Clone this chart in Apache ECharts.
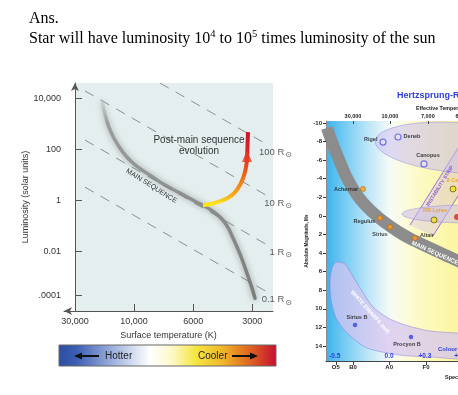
<!DOCTYPE html>
<html><head><meta charset="utf-8">
<script src="https://cdn.jsdelivr.net/npm/echarts@6/dist/echarts.min.js"></script>
<style>html,body{margin:0;padding:0;background:#fff}#c{width:458px;height:395px}</style>
</head><body><div id="c"></div>
<script>
// ---------------- Left panel (schematic HR diagram) ----------------
// x: position along schematic temperature axis (tick index), y: log10(L / Lsun)
const tempTickPos = [0, 1, 2, 3];
const tempTickLabels = ['30,000', '10,000', '6000', '3000'];
const lumTickPos = [4, 2, 0, -2, -3.72];
const lumTickLabels = ['10,000', '100', '1', '0.01', '.0001'];
const mainSequence = [[0.457,3.89],[0.525,3.22],[0.609,2.67],[0.728,2.16],[0.880,1.69],[1.066,1.30],[1.269,0.99],[1.523,0.60],[1.777,0.29],[2.030,-0.03],[2.250,-0.30],[2.420,-0.58],[2.555,-0.93],[2.673,-1.47],[2.792,-2.10],[2.893,-2.73],[2.978,-3.31],[3.046,-3.82]];
const evolutionTrack = [[2.166,-0.18],[2.335,-0.12],[2.504,0.01],[2.656,0.21],[2.758,0.48],[2.843,0.87],[2.893,1.30],[2.910,1.66],[2.919,2.16],[2.927,2.67]];
const arrowHead = [[2.910,1.74]];
const radius100 = [[1.438,4.59],[3.266,2.164]];
const radius10 = [[0.169,4.28],[3.266,0.163]];
const radius1 = [[0.169,2.36],[3.266,-1.757]];
const radius01 = [[0.169,0.52],[3.266,-3.597]];
const radiusLabels = ['100 R', '10 R', '1 R', '0.1 R'];

// ---------------- Right panel (partial H-R diagram) ----------------
// x: spectral index (O0=0, B0=1, A0=2, F0=3, G0=4), y: absolute magnitude
const specPos = [0.53, 1, 1.99, 3.0];
const specLabels = ['O5', 'B0', 'A0', 'F0'];
const topTempPos = [1.0, 2.01, 3.05, 4.0];
const topTempLabels = ['30,000', '10,000', '7,000', '6,000'];
const colourIdxPos = [0.5, 1.99, 2.97, 3.95];
const colourIdxLabels = ['-0.5', '0.0', '+0.3', '+0.6'];
const magTicks = [-10,-8,-6,-4,-2,0,2,4,6,8,10,12,14];
const msRight = [[0.288,-9.46],[0.452,-7.63],[0.644,-5.80],[0.863,-3.86],[1.110,-2.25],[1.384,-0.96],[1.685,0.12],[2.014,1.09],[2.342,1.95],[2.699,2.70],[3.110,3.46],[3.521,4.21],[3.932,4.96],[4.479,6.04]];
const giantNames = ['Rigel', 'Deneb', 'Canopus'];
const giantPos = [[1.822,-7.95],[2.233,-8.49],[2.945,-5.59]];
const msStarNames = ['Achernar', 'Regulus', 'Sirius', 'Altair'];
const msStarPos = [[1.274,-2.90],[1.740,0.23],[2.014,1.19],[2.699,2.38]];
const variableNames = ['δ Cep', 'RR Lyrae'];
const variablePos = [[3.74,-2.90],[3.219,0.44]];
const redStarPos = [[3.849,0.12]];
const wdNames = ['Sirius B', 'Procyon B'];
const wdPos = [[1.055,11.74],[2.589,13.04]];
// regions: [centre x, centre y, half-width, half-height, rotation]
const giantsRegion = [[3.986,-7.31,2.384,2.70,-0.08]];
const rrLyraeRegion = [[4.205,-0.205,1.863,0.969,0]];
const stripLeft = [[2.562,0.98],[4.342,-10.215]];
const stripRight = [[3.192,2.16],[5.16,-10.215]];
const whiteDwarfRegion = [[0.534,4.96],[0.781,5.18],[0.973,6.36],[1.192,7.76],[1.548,9.81],[1.959,10.99],[2.425,11.74],[3.110,12.39],[4.479,13.04],[4.479,15.30],[3.110,15.19],[2.288,14.98],[1.384,14.22],[0.836,12.61],[0.534,10.99],[0.397,9.05],[0.370,6.90],[0.425,5.61]];

const SANS = '"Liberation Sans", Arial, Helvetica, sans-serif';
const SERIF = '"Liberation Serif", "Times New Roman", serif';
const pick = (pos, labels) => v => { const i = pos.findIndex(p => Math.abs(p - v) < 1e-6); return i < 0 ? '' : labels[i]; };

const chart = echarts.init(document.getElementById('c'), null, {renderer: 'canvas', width: 458, height: 395});

const starLabelPos = {
  'Rigel': ['left', [0, -3]], 'Deneb': ['right', [0, -1]], 'Canopus': ['top', [4, 0]],
  'Achernar': ['left', [0, 1]], 'Regulus': ['left', [0, 3]], 'Sirius': ['bottom', [-10, 0]], 'Altair': ['right', [0, -3]],
  'δ Cep': ['top', [1, 0]], 'RR Lyrae': ['top', [1, -1]], 'Sirius B': ['top', [2, 0]], 'Procyon B': ['bottom', [-4, 0]]
};
const starItems = (names, pos) => names.map((n, i) => ({name: n, value: pos[i], label: {position: starLabelPos[n][0], offset: starLabelPos[n][1]}}));
const starLabel = color => ({show: true, formatter: '{b}', fontFamily: SANS, fontSize: 5.5, fontWeight: 'bold', color: color, distance: 2});

function ellipseItem(fill, stroke) {
  return function (params, api) {
    const c = api.coord([api.value(0), api.value(1)]);
    const s = api.size([api.value(2), api.value(3)]);
    return {type: 'ellipse', x: c[0], y: c[1], rotation: api.value(4),
      shape: {cx: 0, cy: 0, rx: s[0], ry: s[1]}, style: {fill: fill, stroke: stroke, lineWidth: 0.8}};
  };
}

const option = {
  animation: false,
  backgroundColor: '#ffffff',
  grid: [
    {left: 64, top: 83, width: 209, height: 228, outerBoundsMode: 'none', containLabel: false},
    {left: 326, top: 121, width: 160, height: 240, outerBoundsMode: 'none', containLabel: false, show: true, borderWidth: 0,
      backgroundColor: new echarts.graphic.LinearGradient(0, 0, 1, 0, [
        {offset: 0, color: '#3cb2ec'}, {offset: 0.12, color: '#78ccf3'}, {offset: 0.28, color: '#c4e8f8'},
        {offset: 0.4, color: '#f6fbf6'}, {offset: 0.55, color: '#fdfbcc'}, {offset: 0.8, color: '#fbf6a2'}, {offset: 1, color: '#faf290'}])}
  ],
  xAxis: [
    {gridIndex: 0, type: 'value', min: -0.186, max: 3.35, z: 5,
      axisLine: {show: true, onZero: false, symbol: ['arrow', 'none'], symbolSize: [6, 8], lineStyle: {color: '#555', width: 1}},
      axisTick: {show: true, inside: true, length: 7, customValues: tempTickPos, lineStyle: {color: '#555'}},
      axisLabel: {show: true, customValues: tempTickPos, formatter: pick(tempTickPos, tempTickLabels), margin: 6, fontFamily: SANS, fontSize: 9, color: '#333'},
      splitLine: {show: false},
      name: 'Surface temperature (K)', nameLocation: 'middle', nameGap: 16, nameTextStyle: {fontFamily: SANS, fontSize: 9, color: '#333'}},
    {gridIndex: 1, type: 'value', min: 0.26, max: 4.644, position: 'bottom', z: 5,
      axisLine: {show: true, onZero: false, lineStyle: {color: '#444', width: 1}},
      axisTick: {show: true, length: 4, customValues: specPos, lineStyle: {color: '#444'}},
      axisLabel: {show: true, customValues: specPos, formatter: pick(specPos, specLabels), margin: 3, fontFamily: SANS, fontSize: 6, fontWeight: 'bold', color: '#222'},
      splitLine: {show: false}},
    {gridIndex: 1, type: 'value', min: 0.26, max: 4.644, position: 'top', z: 5,
      axisLine: {show: false, onZero: false},
      axisTick: {show: true, inside: true, length: 3, customValues: topTempPos, lineStyle: {color: '#444'}},
      axisLabel: {show: true, customValues: topTempPos, formatter: pick(topTempPos, topTempLabels), margin: 2, fontFamily: SANS, fontSize: 5.5, fontWeight: 'bold', color: '#222'},
      splitLine: {show: false}},
    {gridIndex: 1, type: 'value', min: 0.26, max: 4.644, position: 'bottom', z: 5,
      axisLine: {show: false, onZero: false}, axisTick: {show: false},
      axisLabel: {show: true, inside: true, customValues: colourIdxPos, formatter: pick(colourIdxPos, colourIdxLabels), margin: 1, fontFamily: SANS, fontSize: 6.5, fontWeight: 'bold', color: '#2b3fe0'},
      splitLine: {show: false}}
  ],
  yAxis: [
    {gridIndex: 0, type: 'value', min: -4.32, max: 4.59, z: 5,
      axisLine: {show: true, onZero: true, symbol: ['none', 'arrow'], symbolSize: [6, 8], lineStyle: {color: '#555', width: 1}},
      axisTick: {show: true, inside: true, length: 7, customValues: lumTickPos, lineStyle: {color: '#555'}},
      axisLabel: {show: true, customValues: lumTickPos, formatter: pick(lumTickPos, lumTickLabels), margin: 3, fontFamily: SANS, fontSize: 9, color: '#333'},
      splitLine: {show: false},
      name: 'Luminosity (solar units)', nameLocation: 'middle', nameGap: 26, nameTextStyle: {fontFamily: SANS, fontSize: 9, color: '#333'}},
    {gridIndex: 1, type: 'value', min: -10.215, max: 15.62, inverse: true, z: 5,
      axisLine: {show: true, onZero: false, lineStyle: {color: '#8a8a8a', width: 1}},
      axisTick: {show: true, length: 3, customValues: magTicks, lineStyle: {color: '#333'}},
      axisLabel: {show: true, customValues: magTicks, margin: 4, fontFamily: SANS, fontSize: 6, fontWeight: 'bold', color: '#222'},
      splitLine: {show: false},
      name: 'Absolute Magnitude, Mv', nameLocation: 'middle', nameGap: 12, nameTextStyle: {fontFamily: SANS, fontSize: 4.6, fontWeight: 'bold', color: '#222'}}
  ],
  series: [
    // left panel background
    {type: 'line', xAxisIndex: 0, yAxisIndex: 0, data: [], z: 1, silent: true,
      markArea: {silent: true, itemStyle: {color: '#e4eeee'}, data: [[{xAxis: 0, yAxis: 4.59}, {xAxis: 3.35, yAxis: -4.32}]]}},
    ...[radius100, radius10, radius1, radius01].map(d => ({
      type: 'line', xAxisIndex: 0, yAxisIndex: 0, data: d, showSymbol: false, silent: true, z: 2,
      lineStyle: {color: '#8a9090', width: 1, type: [10, 8]}})),
    {type: 'scatter', xAxisIndex: 0, yAxisIndex: 0, z: 6, silent: true, symbolSize: 1, itemStyle: {color: 'rgba(0,0,0,0)'},
      data: [radius100[1], radius10[1], radius1[1], radius01[1]],
      label: {show: true, position: 'inside', align: 'right', offset: [24, 7],
        formatter: p => '{r|' + radiusLabels[p.dataIndex] + '}{s|⊙}',
        rich: {r: {fontFamily: SANS, fontSize: 9.5, color: '#333', lineHeight: 14},
               s: {fontFamily: '"DejaVu Sans", sans-serif', fontSize: 8, color: '#333', verticalAlign: 'bottom', lineHeight: 9, padding: [0, 0, 0, 1]}}}},
    {type: 'line', xAxisIndex: 0, yAxisIndex: 0, data: mainSequence, smooth: true, showSymbol: false, silent: true, z: 3,
      lineStyle: {width: 3.5, cap: 'round',
        color: new echarts.graphic.LinearGradient(0, 0, 0, 1, [{offset: 0, color: 'rgba(170,170,170,0.2)'}, {offset: 0.12, color: 'rgba(140,140,140,0.75)'}, {offset: 1, color: 'rgba(110,110,110,0.85)'}]),
        shadowBlur: 6, shadowColor: 'rgba(110,110,110,0.8)'}},
    {type: 'line', xAxisIndex: 0, yAxisIndex: 0, data: evolutionTrack, smooth: true, showSymbol: false, silent: true, z: 4,
      lineStyle: {width: 4, cap: 'butt',
        color: new echarts.graphic.LinearGradient(0, 0, 0, 1, [
          {offset: 0, color: '#d0102e'}, {offset: 0.3, color: '#dc2222'}, {offset: 0.45, color: '#e8461a'},
          {offset: 0.66, color: '#f07a16'}, {offset: 0.85, color: '#f6ae1c'}, {offset: 0.94, color: '#fbe020'}, {offset: 1, color: '#fff200'}])}},
    {type: 'scatter', xAxisIndex: 0, yAxisIndex: 0, data: arrowHead, symbol: 'triangle', symbolSize: [10, 12], silent: true, z: 5,
      itemStyle: {color: '#e63a1c'}},

    // right panel
    {type: 'custom', xAxisIndex: 1, yAxisIndex: 1, data: whiteDwarfRegion, clip: true, silent: true, z: 2,
      renderItem: (params, api) => {
        if (params.dataIndex !== 0) return null;
        return {type: 'polygon', shape: {points: whiteDwarfRegion.map(p => api.coord(p)), smooth: 0.25},
          style: {fill: 'rgba(214,196,240,0.72)', stroke: 'rgba(120,110,220,0.55)', lineWidth: 0.8}};
      }},
    {type: 'custom', xAxisIndex: 1, yAxisIndex: 1, data: stripLeft, clip: true, silent: true, z: 2,
      renderItem: (params, api) => {
        if (params.dataIndex !== 0) return null;
        const a0 = api.coord(stripLeft[0]), a1 = api.coord(stripLeft[1]);
        const b0 = api.coord(stripRight[0]), b1 = api.coord(stripRight[1]);
        return {type: 'group', children: [
          {type: 'polygon', shape: {points: [a0, a1, b1, b0]}, style: {fill: 'rgba(200,170,240,0.3)', stroke: null}},
          {type: 'line', shape: {x1: a0[0], y1: a0[1], x2: a1[0], y2: a1[1]}, style: {stroke: '#9a6ee0', lineWidth: 1}},
          {type: 'line', shape: {x1: b0[0], y1: b0[1], x2: b1[0], y2: b1[1]}, style: {stroke: '#9a6ee0', lineWidth: 1}}]};
      }},
    {type: 'custom', xAxisIndex: 1, yAxisIndex: 1, data: giantsRegion, clip: true, silent: true, z: 3,
      renderItem: ellipseItem('rgba(200,190,238,0.55)', 'rgba(140,125,225,0.55)')},
    {type: 'custom', xAxisIndex: 1, yAxisIndex: 1, data: rrLyraeRegion, clip: true, silent: true, z: 3,
      renderItem: ellipseItem('rgba(200,190,238,0.55)', 'rgba(140,125,225,0.55)')},
    {type: 'line', xAxisIndex: 1, yAxisIndex: 1, data: msRight, smooth: true, showSymbol: false, silent: true, z: 3,
      lineStyle: {width: 12, color: '#8c8c8c', cap: 'butt'}},
    {type: 'scatter', xAxisIndex: 1, yAxisIndex: 1, data: starItems(giantNames, giantPos), symbolSize: 6, z: 6,
      itemStyle: {color: 'rgba(255,255,255,0.35)', borderColor: '#5a58e6', borderWidth: 1.2}, label: starLabel('#111')},
    {type: 'scatter', xAxisIndex: 1, yAxisIndex: 1, data: starItems(msStarNames, msStarPos), symbolSize: 5, z: 6,
      itemStyle: {color: '#f7a21b', borderColor: '#c8620e', borderWidth: 0.8}, label: starLabel('#111')},
    {type: 'scatter', xAxisIndex: 1, yAxisIndex: 1, data: starItems(variableNames, variablePos), symbolSize: 6, z: 6,
      itemStyle: {color: '#f2e21a', borderColor: '#6a6010', borderWidth: 1}, label: starLabel('#ef9800')},
    {type: 'scatter', xAxisIndex: 1, yAxisIndex: 1, data: redStarPos, symbolSize: 6, z: 6,
      itemStyle: {color: '#e02424'}},
    {type: 'scatter', xAxisIndex: 1, yAxisIndex: 1, data: starItems(wdNames, wdPos), symbolSize: 4.5, z: 6,
      itemStyle: {color: '#3344e6'}, label: starLabel('#111')}
  ],
  graphic: [
    {type: 'text', x: 29, y: 19, style: {text: 'Ans.', fontFamily: SERIF, fontSize: 16, fill: '#000', verticalAlign: 'middle'}},
    {type: 'text', x: 29, y: 38.5, style: {
      text: '{n|Star will have luminosity 10}{p|4}{n| to 10}{p|5}{n| times luminosity of the sun}',
      verticalAlign: 'middle',
      rich: {n: {fontFamily: SERIF, fontSize: 16, fill: '#000', lineHeight: 20},
             p: {fontFamily: SERIF, fontSize: 10.5, fill: '#000', lineHeight: 14, verticalAlign: 'top'}}}},
    {type: 'text', x: 199, y: 146, z: 10, style: {text: 'Post-main sequence\nevolution', fontFamily: SANS, fontSize: 10, lineHeight: 11, fill: '#333', align: 'center', verticalAlign: 'middle'}},
    {type: 'text', x: 151.5, y: 186, rotation: -0.56, z: 10, style: {text: 'MAIN SEQUENCE', fontFamily: SANS, fontSize: 7, fill: '#333', align: 'center', verticalAlign: 'middle'}},
    // colour bar
    {type: 'rect', shape: {x: 59, y: 345, width: 217, height: 21}, z: 10,
      style: {fill: new echarts.graphic.LinearGradient(0, 0, 1, 0, [
        {offset: 0, color: '#2c4ea2'}, {offset: 0.08, color: '#3b5db2'}, {offset: 0.25, color: '#9fb2de'},
        {offset: 0.42, color: '#ffffff'}, {offset: 0.52, color: '#fdf8c8'}, {offset: 0.63, color: '#f4e640'},
        {offset: 0.75, color: '#f0b82a'}, {offset: 0.87, color: '#e06a1e'}, {offset: 1, color: '#c40f32'}]),
        stroke: '#666', lineWidth: 1}},
    {type: 'line', z: 11, shape: {x1: 99, y1: 356, x2: 80, y2: 356}, style: {stroke: '#111', lineWidth: 2}},
    {type: 'polygon', z: 11, shape: {points: [[74, 356], [82, 352.5], [82, 359.5]]}, style: {fill: '#111'}},
    {type: 'line', z: 11, shape: {x1: 232, y1: 356, x2: 252, y2: 356}, style: {stroke: '#111', lineWidth: 2}},
    {type: 'polygon', z: 11, shape: {points: [[258, 356], [250, 352.5], [250, 359.5]]}, style: {fill: '#111'}},
    {type: 'text', x: 105, y: 356, z: 11, style: {text: 'Hotter', fontFamily: SANS, fontSize: 10, fill: '#222', verticalAlign: 'middle'}},
    {type: 'text', x: 198, y: 356, z: 11, style: {text: 'Cooler', fontFamily: SANS, fontSize: 10, fill: '#222', verticalAlign: 'middle'}},
    // right panel texts
    {type: 'text', x: 397, y: 96, z: 11, style: {text: 'Hertzsprung-Russell Diagram', fontFamily: SANS, fontSize: 9, fontWeight: 'bold', fill: '#2f3fd8', verticalAlign: 'middle'}},
    {type: 'text', x: 416, y: 109, z: 11, style: {text: 'Effective Temperature (K)', fontFamily: SANS, fontSize: 5.3, fontWeight: 'bold', fill: '#222', verticalAlign: 'middle'}},
    {type: 'text', x: 435, y: 253, rotation: -0.42, z: 11, style: {text: 'MAIN SEQUENCE', fontFamily: SANS, fontSize: 6, fontWeight: 'bold', fill: '#ffffff', align: 'center', verticalAlign: 'middle'}},
    {type: 'text', x: 370, y: 312, rotation: -0.84, z: 11, style: {text: 'WHITE DWARFS (wd)', fontFamily: SANS, fontSize: 5.5, fontWeight: 'bold', fill: '#ffffff', align: 'center', verticalAlign: 'middle'}},
    {type: 'text', x: 440, y: 186, rotation: 1.01, z: 11, style: {text: 'INSTABILITY STRIP', fontFamily: SANS, fontSize: 5, fontWeight: 'bold', fill: '#8a5fd8', align: 'center', verticalAlign: 'middle'}},
    {type: 'text', x: 438, y: 349, z: 11, style: {text: 'Colour Index', fontFamily: SANS, fontSize: 6, fontWeight: 'bold', fill: '#2b3fe0', verticalAlign: 'middle'}},
    {type: 'text', x: 445, y: 377, z: 11, style: {text: 'Spectral Type', fontFamily: SANS, fontSize: 5.5, fontWeight: 'bold', fill: '#222', verticalAlign: 'middle'}}
  ]
};
chart.setOption(option);
</script>
</body></html>
